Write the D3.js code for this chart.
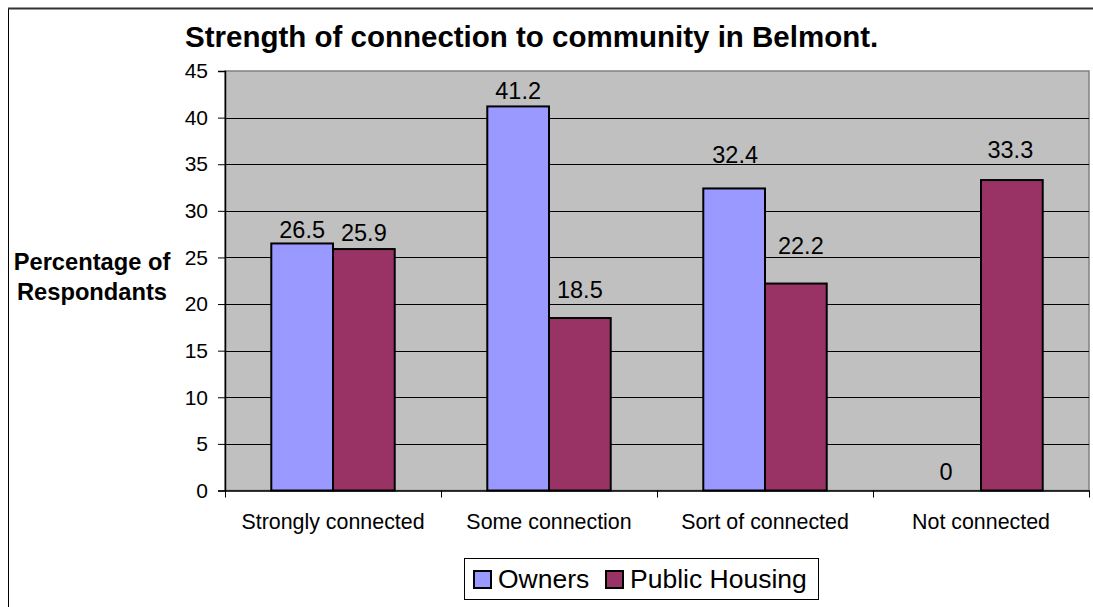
<!DOCTYPE html>
<html><head><meta charset="utf-8">
<script src="https://cdn.jsdelivr.net/npm/d3@7"></script>
<style>html,body{margin:0;padding:0;background:#fff;overflow:hidden}svg{display:block;font-family:Arial,"Liberation Sans",sans-serif}</style>
</head><body>
<svg id="c" width="1093" height="607"></svg>
<script>
const categories = ["Strongly connected","Some connection","Sort of connected","Not connected"];
const series = ["Owners","Public Housing"];
const owners = [26.5, 41.2, 32.4, 0];
const publicHousing = [25.9, 18.5, 22.2, 33.3];
const yTicks = [0,5,10,15,20,25,30,35,40,45];
const colors = ["#9999FF","#993366"];
const title = "Strength of connection to community in Belmont.";
const yTitle = ["Percentage of","Respondants"];

// data-label placement as in the original (pixel gap above bar, horizontal nudge)
const labelGap = [[5.7, 7, 25, 11], [7.6, 20, 30, 22]];
const labelNudge = [[0, 0, 1, -4], [0, 0, 5, -1.5]];

const values = [owners, publicHousing];
const svg = d3.select("#c");

// outer chart frame
svg.append("rect").attr("x",8.5).attr("y",8.5).attr("width",1200).attr("height",700)
  .attr("fill","#fff").attr("stroke","#000").attr("stroke-width",1);
svg.append("line").attr("x1",8).attr("x2",1093).attr("y1",8.5).attr("y2",8.5).attr("stroke","#333").attr("stroke-width",2);

const L=225, R=1089, T=71, B=490.5;
const x0 = d3.scaleBand().domain(categories).range([L,R]);
const x1 = d3.scaleBand().domain(series).range([0,x0.bandwidth()]).paddingInner(0).paddingOuter(0.75);
const y = d3.scaleLinear().domain([0,45]).range([B,T]);

// plot background
svg.append("rect").attr("x",L).attr("y",T).attr("width",R-L).attr("height",B-T).attr("fill","#C0C0C0")
  .attr("stroke","#808080").attr("stroke-width",1.5);

// gridlines
svg.append("g").selectAll("line").data(yTicks.filter(d=>d>0 && d<45)).join("line")
  .attr("x1",L).attr("x2",R).attr("y1",d=>Math.round(y(d))+0.5).attr("y2",d=>Math.round(y(d))+0.5)
  .attr("stroke","#000").attr("stroke-width",1);

// bars
const g = svg.append("g");
categories.forEach((c,i)=>{
  series.forEach((s,j)=>{
    const v = values[j][i];
    if (v>0) {
      g.append("rect").attr("x",x0(c)+x1(s)).attr("y",y(v)).attr("width",x1.bandwidth()).attr("height",B-y(v))
        .attr("fill",colors[j]).attr("stroke","#000").attr("stroke-width",2);
    }
    g.append("text").attr("x",x0(c)+x1(s)+x1.bandwidth()/2+labelNudge[j][i]).attr("y",y(v)-labelGap[j][i])
      .attr("text-anchor","middle").attr("font-size",23.5).attr("fill","#000").text(v);
  });
});

// y axis
const yAxis = d3.axisLeft(y).tickValues(yTicks).tickSize(7).tickPadding(10).tickFormat(d3.format("d"));
const ya = svg.append("g").attr("transform",`translate(${L},0)`).call(yAxis);
ya.select(".domain").attr("stroke","#000").attr("stroke-width",1.5);
ya.selectAll(".tick line").attr("stroke","#000");
ya.selectAll("text").attr("font-size",21).attr("font-family","Arial, 'Liberation Sans', sans-serif").attr("fill","#000");

// x axis
const xAxis = d3.axisBottom(x0).tickSize(0).tickPadding(0);
const xa = svg.append("g").attr("transform",`translate(0,${B})`).call(xAxis);
xa.select(".domain").attr("stroke","#000").attr("stroke-width",1.5);
xa.selectAll("text").attr("font-size",21.4).attr("font-family","Arial, 'Liberation Sans', sans-serif").attr("fill","#000").attr("dy",null).attr("y",38);
const bounds = categories.map(c=>x0(c)).concat([R]);
xa.append("g").selectAll("line").data(bounds).join("line")
  .attr("x1",d=>Math.round(d)+0.5).attr("x2",d=>Math.round(d)+0.5).attr("y1",0).attr("y2",7).attr("stroke","#000");

// title
svg.append("text").attr("x",185).attr("y",47).attr("font-size",29.5).attr("font-weight","bold").attr("fill","#000").text(title);

// y title
svg.append("text").attr("x",92).attr("y",270).attr("text-anchor","middle").attr("font-size",23.7).attr("font-weight","bold").text(yTitle[0]);
svg.append("text").attr("x",92).attr("y",300).attr("text-anchor","middle").attr("font-size",23.7).attr("font-weight","bold").text(yTitle[1]);

// legend
const lg = svg.append("g");
lg.append("rect").attr("x",464.5).attr("y",558.5).attr("width",354).attr("height",41).attr("fill","#fff").attr("stroke","#000").attr("stroke-width",1);
const lx = [473, 605];
series.forEach((s,j)=>{
  lg.append("rect").attr("x",lx[j]+1).attr("y",571).attr("width",17).attr("height",17).attr("fill",colors[j]).attr("stroke","#000").attr("stroke-width",2);
  lg.append("text").attr("x",lx[j]+25).attr("y",588).attr("font-size",26.5).attr("fill","#000").text(s);
});
</script>
</body></html>
